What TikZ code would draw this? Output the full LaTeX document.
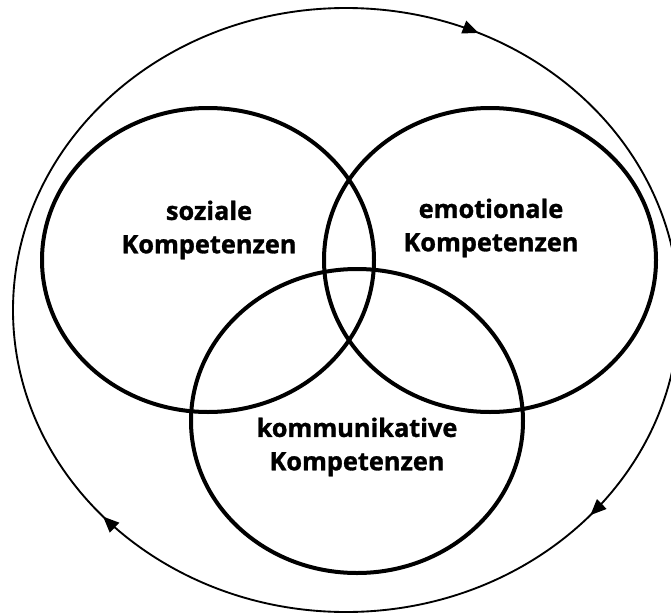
\documentclass[tikz,border=0pt]{standalone}
\usepackage{fontspec}
\setmainfont{Open Sans}[BoldFeatures={FakeBold=1.2}]
\usetikzlibrary{shapes.geometric,arrows.meta,decorations.markings}
\tikzset{
  ring/.style={draw=black, line width=3pt, ellipse, inner sep=0pt},
  label/.style={align=center, font=\bfseries\fontsize{19}{25}\selectfont},
  cycle/.style={draw=black, line width=1.4pt,
    postaction={decorate, decoration={markings,
      mark=at position 0.182 with {\arrowreversed{Triangle[length=12pt,width=10pt]}},
      mark=at position 0.616 with {\arrowreversed{Triangle[length=12pt,width=10pt]}},
      mark=at position 0.885 with {\arrowreversed{Triangle[length=12pt,width=10pt]}}}}}
}
\begin{document}
\begin{tikzpicture}[x=0.75pt,y=-0.75pt]
\useasboundingbox (0,0) rectangle (671,614);
\coordinate (ctr) at (346,310);
\path[cycle] (ctr) ellipse [x radius=249.75pt, y radius=226.5pt];
\node[ring, minimum width=249pt, minimum height=228pt] (soz) at (208,260) {};
\node[ring, minimum width=249pt, minimum height=228pt] (emo) at (490,260) {};
\node[ring, minimum width=249pt, minimum height=228pt] (kom) at (357,421) {};
\node[label] (tsoz) at (209,230) {soziale\\Kompetenzen};
\node[label] (temo) at (491,228) {emotionale\\Kompetenzen};
\node[label] (tkom) at (357,447) {kommunikative\\Kompetenzen};
\end{tikzpicture}
\end{document}
